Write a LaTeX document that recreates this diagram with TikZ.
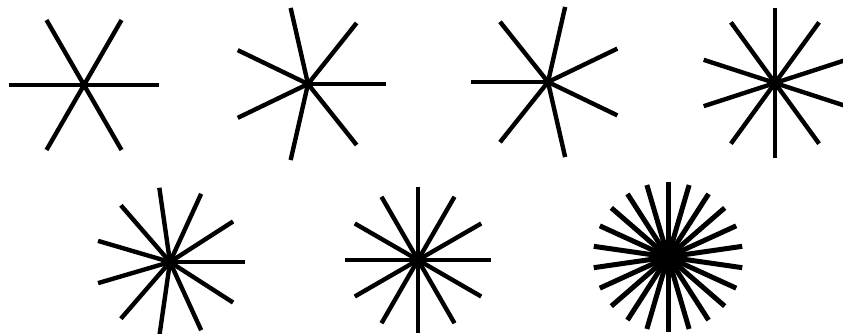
\documentclass[tikz,border=0pt]{standalone}
\begin{document}
\begin{tikzpicture}[x=1pt,y=1pt, ray/.style={line width=4.4pt,black}]
\useasboundingbox (0,0) rectangle (843,333);
\clip (0,0) rectangle (843,333);
\coordinate (s1) at (84,248);
\coordinate (s2) at (308,249);
\coordinate (s3) at (548,251);
\coordinate (s4) at (775,250);
\coordinate (s5) at (170,71);
\coordinate (s6) at (418,73);
\coordinate (s7) at (668,76);
\foreach \c/\n/\s/\r/\w in {s1/6/0/75/4.4, s2/7/0/78/4.4, s3/7/180/77/4.4, s4/10/90/75/4.4, s5/11/0/75/4.4, s6/12/0/73/4.4, s7/22/90/75/5}{
  \pgfmathsetmacro\dang{360/\n}
  \foreach \k in {1,...,\n}{
    \draw[ray, line width=\w pt] (\c) -- ++({\s+\k*\dang}:\r);
  }
}
\fill (s7) circle (17);
\end{tikzpicture}
\end{document}
